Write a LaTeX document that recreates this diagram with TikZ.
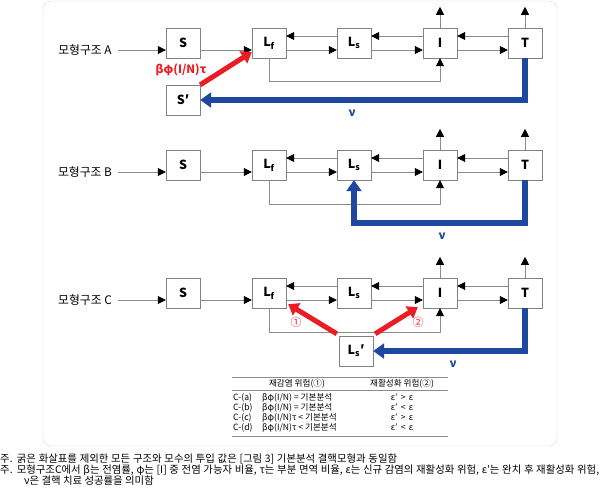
\documentclass[tikz,border=0pt]{standalone}
\usepackage{fontspec}
\setmainfont{Noto Sans CJK KR}
\usepackage{xcolor}
\usetikzlibrary{arrows.meta, positioning}

\definecolor{redarrow}{RGB}{236,28,36}
\definecolor{bluearrow}{RGB}{30,72,160}
\definecolor{linegray}{RGB}{140,140,140}
\definecolor{boxgray}{RGB}{130,130,130}
\definecolor{framegray}{RGB}{215,215,215}

\begin{document}
\begin{tikzpicture}[x=1pt, y=-1pt, font=\fontsize{11.8}{13}\selectfont,
    box/.style={draw=boxgray, fill=white, minimum width=34pt, minimum height=30pt,
        inner sep=0pt, font=\fontsize{12.5}{13}\selectfont\bfseries},
    ln/.style={draw=linegray, line width=0.8pt, -{Triangle[length=8pt,width=8pt,color=black]}},
    redarr/.style={draw=redarrow, line width=5pt, -{Triangle[length=10pt,width=14pt]}},
    bluearr/.style={draw=bluearrow, line width=6pt, -{Triangle[length=11pt,width=15pt]}},
    rate/.style={text=redarrow, font=\fontsize{11.5}{12}\selectfont\bfseries},
    nu/.style={text=bluearrow, font=\fontsize{11.5}{12}\selectfont\bfseries},
    circ/.style={text=redarrow, font=\fontsize{11}{12}\selectfont},
    tab/.style={font=\fontsize{8.6}{9}\selectfont, inner sep=0pt},
    note/.style={font=\fontsize{10.4}{11}\selectfont, anchor=west, inner sep=0pt}]
    \useasboundingbox (0,0) rectangle (600,491);
    \draw[framegray, rounded corners=8pt] (43,1) rectangle (557,446);

    % 1. 모형구조 A
    \node (labA) at (85,50) {모형구조 A};
    \node[box] (SA) at (183,43) {S};
    \node[box] (LfA) at (269,43) {L\textsubscript{f}};
    \node[box] (LsA) at (354,43) {L\textsubscript{s}};
    \node[box] (IA) at (440,43) {I};
    \node[box] (TA) at (525,43) {T};
    \node[box] (SpA) at (183,100) {S′};
    \draw[ln, shorten <=3pt] (labA.east) -- ([yshift=-7pt]SA.west);
    \draw[ln] ([yshift=-7pt]SA.east) -- ([yshift=-7pt]LfA.west);
    \draw[ln] ([yshift=-7pt]LfA.east) -- ([yshift=-7pt]LsA.west);
    \draw[ln] ([yshift=7pt]LsA.west) -- ([yshift=7pt]LfA.east);
    \draw[ln] ([yshift=-7pt]LsA.east) -- ([yshift=-7pt]IA.west);
    \draw[ln] ([yshift=7pt]IA.west) -- ([yshift=7pt]LsA.east);
    \draw[ln] ([yshift=-7pt]IA.east) -- ([yshift=-7pt]TA.west);
    \draw[ln] ([yshift=7pt]TA.west) -- ([yshift=7pt]IA.east);
    \draw[ln] (IA.north) -- ++(0,-21);
    \draw[ln] (TA.north) -- ++(0,-21);
    \draw[ln] (LfA.south) -- ++(0,23) -| (IA.south);
    \draw[redarr] (SpA.north east) -- ([yshift=-9pt]LfA.west);
    \node[rate] (rateA) at (181,70) {βφ(I/N)τ};
    \draw[bluearr] (TA.south) |- (SpA.east);
    \node[nu] (nuA) at (352,113) {ν};

    % 2. 모형구조 B
    \node (labB) at (85,172) {모형구조 B};
    \node[box] (SB) at (183,165) {S};
    \node[box] (LfB) at (269,165) {L\textsubscript{f}};
    \node[box] (LsB) at (354,165) {L\textsubscript{s}};
    \node[box] (IB) at (440,165) {I};
    \node[box] (TB) at (525,165) {T};
    \draw[ln, shorten <=3pt] (labB.east) -- ([yshift=-7pt]SB.west);
    \draw[ln] ([yshift=-7pt]SB.east) -- ([yshift=-7pt]LfB.west);
    \draw[ln] ([yshift=-7pt]LfB.east) -- ([yshift=-7pt]LsB.west);
    \draw[ln] ([yshift=7pt]LsB.west) -- ([yshift=7pt]LfB.east);
    \draw[ln] ([yshift=-7pt]LsB.east) -- ([yshift=-7pt]IB.west);
    \draw[ln] ([yshift=7pt]IB.west) -- ([yshift=7pt]LsB.east);
    \draw[ln] ([yshift=-7pt]IB.east) -- ([yshift=-7pt]TB.west);
    \draw[ln] ([yshift=7pt]TB.west) -- ([yshift=7pt]IB.east);
    \draw[ln] (IB.north) -- ++(0,-21);
    \draw[ln] (TB.north) -- ++(0,-21);
    \draw[ln] (LfB.south) -- ++(0,24) -| (IB.south);
    \draw[bluearr] (TB.south) -- ++(0,43) -| (LsB.south);
    \node[nu] (nuB) at (442,236) {ν};

    % 3. 모형구조 C
    \node (labC) at (85,300) {모형구조 C};
    \node[box] (SC) at (183,293) {S};
    \node[box] (LfC) at (269,293) {L\textsubscript{f}};
    \node[box] (LsC) at (354,293) {L\textsubscript{s}};
    \node[box] (IC) at (440,293) {I};
    \node[box] (TC) at (525,293) {T};
    \node[box] (LspC) at (356,351) {L\textsubscript{s}′};
    \draw[ln, shorten <=3pt] (labC.east) -- ([yshift=-7pt]SC.west);
    \draw[ln] ([yshift=-7pt]SC.east) -- ([yshift=-7pt]LfC.west);
    \draw[ln] ([yshift=-7pt]LfC.east) -- ([yshift=-7pt]LsC.west);
    \draw[ln] ([yshift=7pt]LsC.west) -- ([yshift=7pt]LfC.east);
    \draw[ln] ([yshift=-7pt]LsC.east) -- ([yshift=-7pt]IC.west);
    \draw[ln] ([yshift=7pt]IC.west) -- ([yshift=7pt]LsC.east);
    \draw[ln] ([yshift=-7pt]IC.east) -- ([yshift=-7pt]TC.west);
    \draw[ln] ([yshift=7pt]TC.west) -- ([yshift=7pt]IC.east);
    \draw[ln] (IC.north) -- ++(0,-21);
    \draw[ln] (TC.north) -- ++(0,-21);
    \draw[ln] (LfC.south) -- ++(0,24) -| (IC.south);
    \draw[redarr] ([xshift=-2pt,yshift=2pt]LspC.north west) -- ([xshift=2pt,yshift=4pt]LfC.south east);
    \draw[redarr] ([xshift=2pt,yshift=2pt]LspC.north east) -- ([xshift=-5pt,yshift=1pt]IC.south west);
    \node[circ] (one) at (296,322) {①};
    \node[circ] (two) at (418,322) {②};
    \draw[bluearr] (TC.south) |- (LspC.east);
    \node[nu] (nuC) at (453,364) {ν};

    % 4. 표
    \draw[linegray] (232,377) -- (448,377);
    \draw[linegray] (232,390) -- (448,390);
    \draw[linegray] (232,436) -- (448,436);
    \node[tab] (h1) at (297,383.5) {재감염 위험(①)};
    \node[tab] (h2) at (402,383.5) {재활성화 위험(②)};
    \node[tab, anchor=west] (ca) at (233,397.5) {C-(a)};
    \node[tab, anchor=west] (cb) at (233,407.5) {C-(b)};
    \node[tab, anchor=west] (cc) at (233,417.5) {C-(c)};
    \node[tab, anchor=west] (cd) at (233,427.5) {C-(d)};
    \node[tab, anchor=west] (ra) at (262,397.5) {βφ(I/N) = 기본분석};
    \node[tab, anchor=west] (rb) at (262,407.5) {βφ(I/N) = 기본분석};
    \node[tab, anchor=west] (rc) at (262,417.5) {βφ(I/N)τ < 기본분석};
    \node[tab, anchor=west] (rd) at (262,427.5) {βφ(I/N)τ < 기본분석};
    \node[tab] (ea) at (402,397.5) {ε′ \,>\, ε};
    \node[tab] (eb) at (402,407.5) {ε′ \,<\, ε};
    \node[tab] (ec) at (402,417.5) {ε′ \,>\, ε};
    \node[tab] (ed) at (402,427.5) {ε′ \,<\, ε};

    % 5. 주
    \node[note] (n1) at (0,459) {\makebox[397pt][s]{주. 굵은 화살표를 제외한 모든 구조와 모수의 투입 값은 [그림 3] 기본분석 결핵모형과 동일함}};
    \node[note] (n2) at (0,470) {\makebox[599pt][s]{주. 모형구조C에서 β는 전염률, φ는 [I] 중 전염 가능자 비율, τ는 부분 면역 비율, ε는 신규 감염의 재활성화 위험, ε′는 완치 후 재활성화 위험,}};
    \node[note] (n3) at (24,480.5) {ν은 결핵 치료 성공률을 의미함};
\end{tikzpicture}
\end{document}
